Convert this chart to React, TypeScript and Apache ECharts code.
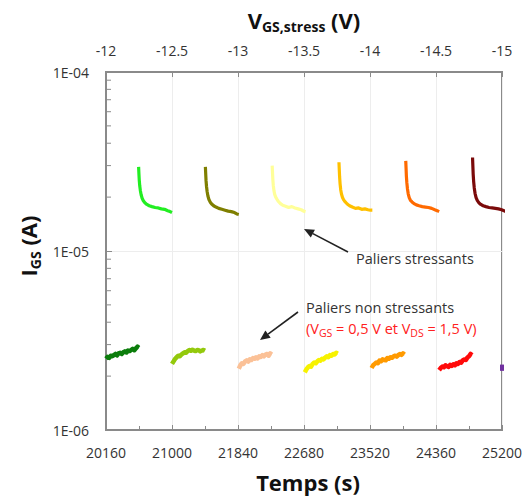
import React, { useEffect, useRef } from 'react';
import * as echarts from 'echarts';

// ---- axes ----
const timeMin = 20160;
const timeMax = 25200;
const timeStep = 840;
const vgsMin = -15;
const vgsMax = -12;
const vgsStep = 0.5;
const iMin = 1e-6;
const iMax = 1e-4;
const yMinorTicks = [2e-6, 3e-6, 4e-6, 5e-6, 6e-6, 7e-6, 8e-6, 9e-6, 2e-5, 3e-5, 4e-5, 5e-5, 6e-5, 7e-5, 8e-5, 9e-5];

// ---- non-stressing steps (values in 1e-6 A) ----
const lowStarts = [20160, 21000, 21850, 22690, 23540, 24400];
const lowOffsets = [0, 20, 40, 60, 80, 100, 120, 140, 160, 180, 200, 220, 240, 260, 280, 300, 320, 340, 360, 380, 400, 420];
const lowColors = ['#0B7D0B', '#93C90C', '#FBC197', '#F7F200', '#FF9A00', '#FF0A0A'];
const low1 = [2.50, 2.56, 2.53, 2.60, 2.58, 2.62, 2.66, 2.61, 2.68, 2.70, 2.66, 2.72, 2.75, 2.71, 2.78, 2.76, 2.80, 2.84, 2.79, 2.86, 2.92, 2.88];
const low2 = [2.34, 2.42, 2.50, 2.55, 2.60, 2.58, 2.64, 2.68, 2.72, 2.70, 2.76, 2.80, 2.77, 2.81, 2.78, 2.76, 2.80, 2.79, 2.75, 2.78, 2.80, 2.77];
const low3 = [2.20, 2.30, 2.36, 2.34, 2.42, 2.45, 2.41, 2.48, 2.46, 2.52, 2.50, 2.55, 2.51, 2.58, 2.56, 2.62, 2.58, 2.64, 2.66, 2.60, 2.68, 2.64];
const low4 = [2.10, 2.18, 2.24, 2.28, 2.26, 2.34, 2.38, 2.36, 2.42, 2.46, 2.44, 2.50, 2.48, 2.54, 2.58, 2.55, 2.62, 2.60, 2.66, 2.64, 2.70, 2.67];
const low5 = [2.22, 2.30, 2.34, 2.38, 2.36, 2.44, 2.42, 2.48, 2.46, 2.45, 2.52, 2.50, 2.55, 2.53, 2.58, 2.60, 2.57, 2.62, 2.66, 2.63, 2.68, 2.64];
const low6 = [2.16, 2.22, 2.26, 2.24, 2.30, 2.27, 2.25, 2.31, 2.28, 2.33, 2.30, 2.36, 2.34, 2.40, 2.38, 2.45, 2.48, 2.46, 2.54, 2.58, 2.66, 2.62];
const lowValues = [low1, low2, low3, low4, low5, low6];
const purpleTimes = [25200, 25200];
const purpleValues = [2.14, 2.32];
const purpleColor = '#7030A0';

// ---- stressing steps (values in 1e-5 A) ----
const stressStarts = [20575, 21425, 22275, 23125, 23975, 24825];
const stressOffsets = [0, 4, 8, 14, 22, 32, 45, 60, 80, 105, 135, 170, 210, 250, 290, 330, 370, 400, 425];
const stressColors = ['#22EE22', '#7F7F00', '#FFFF99', '#FFC000', '#FF6A00', '#7B0A0A'];
const stress1 = [2.95, 2.70, 2.50, 2.32, 2.18, 2.06, 1.97, 1.91, 1.86, 1.82, 1.79, 1.77, 1.75, 1.74, 1.72, 1.71, 1.68, 1.66, 1.64];
const stress2 = [2.95, 2.70, 2.48, 2.30, 2.15, 2.03, 1.94, 1.88, 1.83, 1.79, 1.76, 1.73, 1.71, 1.69, 1.67, 1.66, 1.64, 1.61, 1.60];
const stress3 = [3.00, 2.75, 2.52, 2.33, 2.18, 2.07, 2.00, 1.95, 1.89, 1.84, 1.80, 1.78, 1.75, 1.77, 1.74, 1.72, 1.70, 1.67, 1.66];
const stress4 = [3.13, 2.85, 2.60, 2.38, 2.20, 2.08, 1.99, 1.93, 1.88, 1.83, 1.79, 1.76, 1.73, 1.74, 1.71, 1.72, 1.70, 1.69, 1.69];
const stress5 = [3.19, 2.90, 2.62, 2.40, 2.22, 2.08, 1.98, 1.92, 1.88, 1.84, 1.81, 1.79, 1.77, 1.76, 1.75, 1.73, 1.70, 1.68, 1.66];
const stress6 = [3.33, 3.00, 2.70, 2.45, 2.25, 2.10, 1.99, 1.92, 1.86, 1.82, 1.79, 1.77, 1.75, 1.74, 1.73, 1.72, 1.70, 1.68, 1.66];
const stressValues = [stress1, stress2, stress3, stress4, stress5, stress6];

const FONT = "'Open Sans', 'Liberation Sans', sans-serif";
const AXIS_GRAY = '#8A8A8A';
const GRID_GRAY = '#EDEDED';
const TEXT = '#333333';

function arrow(x1: number, y1: number, x2: number, y2: number) {
  const ang = Math.atan2(y2 - y1, x2 - x1);
  const len = 10;
  const half = 4.5;
  const bx = x2 - len * Math.cos(ang);
  const by = y2 - len * Math.sin(ang);
  const px = -Math.sin(ang) * half;
  const py = Math.cos(ang) * half;
  return [
    { type: 'line', shape: { x1, y1, x2: bx, y2: by }, style: { stroke: '#222', lineWidth: 1.6 }, z: 100 },
    { type: 'polygon', shape: { points: [[x2, y2], [bx + px, by + py], [bx - px, by - py]] }, style: { fill: '#222' }, z: 100 },
  ];
}

export default function App() {
  const ref = useRef<HTMLDivElement>(null);
  useEffect(() => {
    if (!ref.current) return;
    const chart = echarts.init(ref.current, undefined, { renderer: 'svg' });

    const series: any[] = [];
    lowValues.forEach((vals, i) => {
      series.push({
        type: 'line',
        xAxisIndex: 0,
        yAxisIndex: 0,
        data: vals.map((v, k) => [lowStarts[i] + lowOffsets[k], v * 1e-6]),
        showSymbol: false,
        lineStyle: { color: lowColors[i], width: 4.5, join: 'round' },
        itemStyle: { color: lowColors[i] },
        smooth: false,
        z: 5,
      });
    });
    series.push({
      type: 'line',
      data: purpleValues.map((v, k) => [purpleTimes[k], v * 1e-6]),
      showSymbol: false,
      clip: false,
      lineStyle: { color: purpleColor, width: 4 },
      z: 5,
    });
    stressValues.forEach((vals, i) => {
      series.push({
        type: 'line',
        data: vals.map((v, k) => [stressStarts[i] + stressOffsets[k], v * 1e-5]),
        showSymbol: false,
        lineStyle: { color: stressColors[i], width: 3.2, join: 'round' },
        itemStyle: { color: stressColors[i] },
        z: 5,
      });
    });
    series.push({
      type: 'custom',
      data: yMinorTicks.map((v) => [timeMin, v]),
      silent: true,
      clip: false,
      z: 10,
      renderItem: (params: any, api: any) => {
        const p = api.coord([api.value(0), api.value(1)]);
        return {
          type: 'line',
          shape: { x1: p[0], y1: p[1], x2: p[0] + 5, y2: p[1] },
          style: { stroke: AXIS_GRAY, lineWidth: 1 },
        };
      },
    });

    const arrows = [...arrow(348, 252, 304, 229), ...arrow(298, 312, 260, 340)];

    chart.setOption({
      animation: false,
      backgroundColor: '#ffffff',
      grid: { left: 106, right: 28, top: 72, bottom: 68, show: true, borderColor: AXIS_GRAY, borderWidth: 2 },
      xAxis: [
        {
          type: 'value',
          position: 'bottom',
          min: timeMin,
          max: timeMax,
          interval: timeStep,
          axisLine: { show: true, lineStyle: { color: AXIS_GRAY, width: 2 } },
          axisTick: { show: true, inside: true, length: 5, lineStyle: { color: AXIS_GRAY } },
          minorTick: { show: true, splitNumber: 2, length: 4, lineStyle: { color: AXIS_GRAY } },
          splitLine: { show: true, lineStyle: { color: GRID_GRAY, width: 1 } },
          axisLabel: { margin: 15, color: TEXT, fontSize: 14, fontFamily: FONT, formatter: (v: number) => String(v) },
        },
        {
          type: 'value',
          position: 'top',
          min: vgsMin,
          max: vgsMax,
          inverse: true,
          interval: vgsStep,
          axisLine: { show: true, lineStyle: { color: AXIS_GRAY, width: 2 } },
          axisTick: { show: true, inside: true, length: 5, lineStyle: { color: AXIS_GRAY } },
          splitLine: { show: false },
          axisLabel: { margin: 15, color: TEXT, fontSize: 14, fontFamily: FONT, formatter: (v: number) => String(v) },
        },
      ],
      yAxis: {
        type: 'log',
        logBase: 10,
        min: iMin,
        max: iMax,
        axisLine: { show: true, lineStyle: { color: AXIS_GRAY, width: 2 } },
        axisTick: { show: true, inside: true, length: 6, lineStyle: { color: AXIS_GRAY } },
        splitLine: { show: true, lineStyle: { color: GRID_GRAY, width: 1 } },
        axisLabel: {
          margin: 17,
          color: TEXT,
          fontSize: 14,
          fontFamily: FONT,
          formatter: (v: number) => {
            const e = Math.round(Math.log10(v));
            return '1E' + (e < 0 ? '-' : '+') + String(Math.abs(e)).padStart(2, '0');
          },
        },
      },
      series,
      graphic: [
        {
          type: 'text',
          x: 304,
          y: 20,
          style: {
            text: '{m|V}{s|GS,stress}{m| (V)}',
            align: 'center',
            verticalAlign: 'middle',
            fill: '#111',
            rich: {
              m: { fontSize: 22, fontWeight: 'bold', fontFamily: FONT, lineHeight: 26, fill: '#111' },
              s: { fontSize: 14, fontWeight: 'bold', fontFamily: FONT, lineHeight: 16, verticalAlign: 'bottom', fill: '#111' },
            },
          },
        },
        {
          type: 'text',
          x: 308,
          y: 482,
          style: {
            text: 'Temps (s)',
            align: 'center',
            verticalAlign: 'middle',
            fontSize: 22,
            fontWeight: 'bold',
            fontFamily: FONT,
            fill: '#111',
          },
        },
        {
          type: 'text',
          x: 28,
          y: 246,
          rotation: Math.PI / 2,
          style: {
            text: '{m|I}{s|GS}{m| (A)}',
            align: 'center',
            verticalAlign: 'middle',
            fill: '#111',
            rich: {
              m: { fontSize: 22, fontWeight: 'bold', fontFamily: FONT, lineHeight: 28, fill: '#111' },
              s: { fontSize: 14, fontWeight: 'bold', fontFamily: FONT, lineHeight: 18, verticalAlign: 'bottom', fill: '#111' },
            },
          },
        },
        {
          type: 'text',
          x: 356,
          y: 258,
          style: { text: 'Paliers stressants', align: 'left', verticalAlign: 'middle', fontSize: 14.5, fontFamily: FONT, fill: TEXT },
          z: 100,
        },
        {
          type: 'text',
          x: 306,
          y: 307,
          style: { text: 'Paliers non stressants', align: 'left', verticalAlign: 'middle', fontSize: 14.5, fontFamily: FONT, fill: TEXT },
          z: 100,
        },
        {
          type: 'text',
          x: 306,
          y: 328,
          style: {
            text: '{n|(V}{s|GS}{n| = 0,5 V et V}{s|DS}{n| = 1,5 V)}',
            align: 'left',
            verticalAlign: 'middle',
            fill: '#FF2020',
            rich: {
              n: { fontSize: 14.5, fontFamily: FONT, lineHeight: 20, fill: '#FF2020' },
              s: { fontSize: 10.5, fontFamily: FONT, lineHeight: 13, verticalAlign: 'bottom', fill: '#FF2020' },
            },
          },
          z: 100,
        },
        ...arrows,
      ],
    });
    return () => chart.dispose();
  }, []);
  return <div ref={ref} style={{ position: 'fixed', left: 0, top: 0, width: 530, height: 498, background: '#fff' }} />;
}
